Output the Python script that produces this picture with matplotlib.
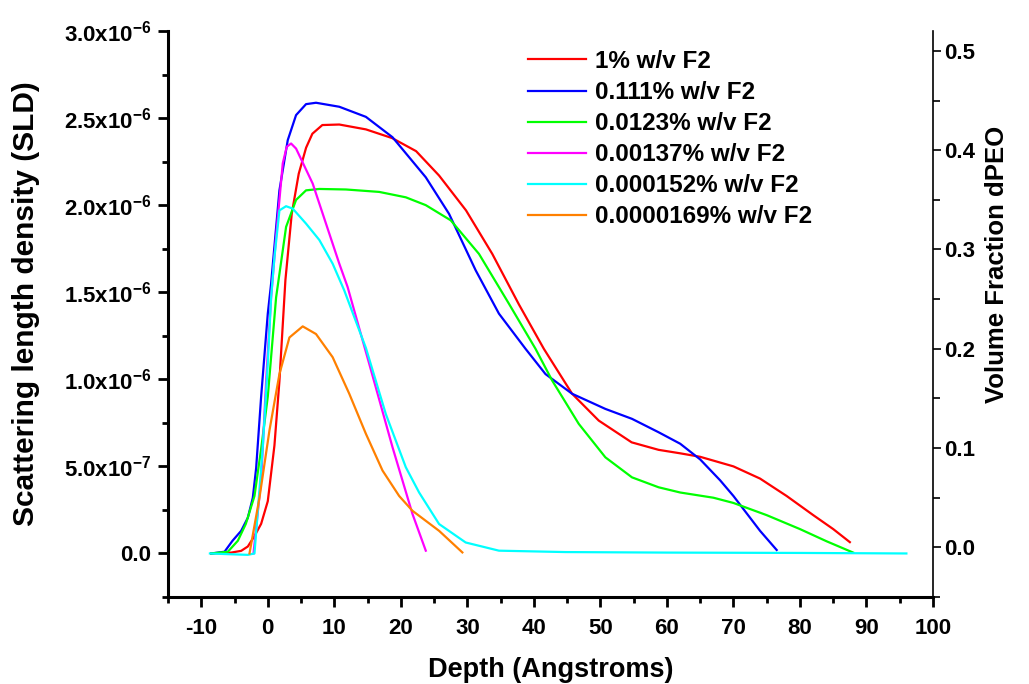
import numpy as np
import matplotlib
matplotlib.use('Agg')
import matplotlib.pyplot as plt
from matplotlib.ticker import MultipleLocator, FuncFormatter

plt.rcParams['font.family'] = ['Liberation Sans', 'DejaVu Sans']
plt.rcParams['font.weight'] = 'bold'
plt.rcParams['axes.unicode_minus'] = False
plt.rcParams['mathtext.fontset'] = 'custom'
plt.rcParams['mathtext.rm'] = 'Liberation Sans:bold'
plt.rcParams['mathtext.bf'] = 'Liberation Sans:bold'
plt.rcParams['mathtext.it'] = 'Liberation Sans:bold'
plt.rcParams['mathtext.default'] = 'bf'

# SLD values are in units of 1e-6
sld_unit = 1e-6

labels = ['1% w/v F2', '0.111% w/v F2', '0.0123% w/v F2',
          '0.00137% w/v F2', '0.000152% w/v F2', '0.0000169% w/v F2']
colors = ['#ff0000', '#0000ff', '#00ff00', '#ff00ff', '#00ffff', '#ff8000']

red_x = [-8.5, -5.5, -4.0, -3.0, -2.0, -1.0, 0.0, 1.0, 1.75, 2.65, 3.6, 4.65, 5.76, 6.7, 8.2,
         10.75, 14.76, 18.7, 22.3, 25.75, 29.8, 33.75, 37.75, 41.5, 45.75, 49.75, 54.7,
         58.75, 62, 65, 70, 74, 78, 82, 85, 87.5]
red_y = [0, 0.005, 0.015, 0.04, 0.10, 0.17, 0.30, 0.62, 0.99, 1.57, 1.95, 2.18, 2.33, 2.41, 2.46,
         2.463, 2.435, 2.385, 2.31, 2.17, 1.97, 1.72, 1.43, 1.175, 0.917, 0.763, 0.638,
         0.595, 0.575, 0.555, 0.50, 0.43, 0.33, 0.22, 0.14, 0.065]

blue_x = [-8.5, -6.5, -5.3, -4.0, -3.0, -2.25, -1.75, -1.0, 0.0, 0.5, 1.75, 3.0, 4.25, 5.75, 7.25,
          10.75, 14.75, 18.75, 23.75, 27.25, 31.25, 34.75, 38.75, 41.75, 45.75, 50.75, 54.75,
          58.75, 62, 65, 68, 70, 72, 74, 76.5]
blue_y = [0, 0.01, 0.073, 0.13, 0.205, 0.32, 0.49, 0.90, 1.377, 1.55, 2.085, 2.373, 2.517, 2.58, 2.588,
          2.565, 2.507, 2.39, 2.16, 1.95, 1.626, 1.377, 1.175, 1.03, 0.917, 0.83, 0.773,
          0.696, 0.63, 0.54, 0.42, 0.33, 0.23, 0.13, 0.02]

green_x = [-8.5, -6.0, -4.5, -3.3, -2.0, -1.0, 0.0, 1.25, 2.75, 4.25, 5.75, 7.75, 11.75, 16.75,
           20.75, 23.75, 27.5, 31.75, 36.25, 40.25, 42.75, 46.75, 50.75, 54.75, 58.75, 62, 67,
           70, 75, 80, 84, 88]
green_y = [0, 0.01, 0.073, 0.17, 0.33, 0.60, 0.90, 1.47, 1.875, 2.03, 2.085, 2.093, 2.09, 2.076,
           2.045, 2.0, 1.913, 1.72, 1.434, 1.175, 0.993, 0.744, 0.552, 0.437, 0.38, 0.35, 0.32,
           0.29, 0.22, 0.14, 0.07, 0.005]

magenta_x = [-2.15, -1.0, -0.25, 0.5, 1.25, 1.75, 2.25, 2.85, 3.5, 4.25, 6.75, 8.75, 10.75, 12.0,
             15.25, 18.75, 21.75, 23.75]
magenta_y = [0, 0.42, 0.99, 1.47, 1.82, 2.03, 2.24, 2.335, 2.354, 2.325, 2.124, 1.894, 1.664, 1.53,
             1.089, 0.61, 0.227, 0.016]

cyan_x = [-8.7, -6.0, -3.0, -2.0, -0.75, 0.0, 0.5, 1.0, 1.75, 2.75, 3.75, 5.75, 7.75, 9.75, 11.5,
          14.75, 17.75, 20.75, 22.75, 25.75, 29.75, 34.75, 44.75, 60, 80, 96]
cyan_y = [0, -0.004, -0.008, 0, 0.61, 1.09, 1.47, 1.70, 1.97, 1.994, 1.98, 1.894, 1.80, 1.664, 1.51,
          1.18, 0.80, 0.495, 0.35, 0.169, 0.063, 0.016, 0.008, 0.005, 0.003, 0.0]

orange_x = [-2.75, -1.25, 0.25, 1.75, 3.25, 5.25, 7.25, 9.75, 12.25, 14.75, 17.25, 19.75, 21.75,
            25.75, 29.25]
orange_y = [0, 0.32, 0.706, 1.03, 1.24, 1.304, 1.26, 1.127, 0.917, 0.687, 0.476, 0.33, 0.245,
            0.13, 0.006]

series = [(red_x, red_y), (blue_x, blue_y), (green_x, green_y),
          (magenta_x, magenta_y), (cyan_x, cyan_y), (orange_x, orange_y)]


def sci_fmt(v, pos):
    if abs(v) < 1e-12:
        return '0.0'
    e = int(np.floor(np.log10(abs(v)) + 1e-9))
    m = v / 10 ** e
    return r'$%.1fx10^{%d}$' % (m, e)


fig = plt.figure(figsize=(10.29, 6.84), dpi=100)
ax = fig.add_axes([168 / 1029, 87 / 684, (933 - 168) / 1029, (597 - 31) / 684])

for (xs, ys), c, lab in zip(series, colors, labels):
    ax.plot(xs, np.array(ys) * sld_unit, color=c, lw=1.6, label=lab)

ax.set_xlim(-15, 100)
ax.set_ylim(-0.25e-6, 3.0e-6)
ax.xaxis.set_major_locator(MultipleLocator(10))
ax.xaxis.set_minor_locator(MultipleLocator(5))
ax.yaxis.set_major_locator(MultipleLocator(0.5e-6))
ax.yaxis.set_minor_locator(MultipleLocator(0.25e-6))
ax.yaxis.set_major_formatter(FuncFormatter(sci_fmt))
ax.set_xticks([t for t in range(-10, 101, 10)])

ax.spines['top'].set_visible(False)
ax.spines['right'].set_visible(False)
ax.spines['left'].set_linewidth(2.2)
ax.spines['bottom'].set_linewidth(2.2)
ax.tick_params(axis='x', which='major', direction='out', length=7, width=2, labelsize=16, pad=8)
ax.tick_params(axis='y', which='major', direction='out', length=7, width=2, labelsize=16, pad=5)
ax.tick_params(which='minor', direction='out', length=4, width=2)

ax.set_xlabel('Depth (Angstroms)', fontsize=19.5, fontweight='bold')
ax.xaxis.set_label_coords(0.5007, -0.106)
ax.set_ylabel('Scattering length density (SLD)', fontsize=21.5, fontweight='bold')
ax.yaxis.set_label_coords(-0.167, 0.518)

ax2 = ax.twinx()
ax2.set_ylim(-0.05, 0.52)
ax2.yaxis.set_major_locator(MultipleLocator(0.1))
ax2.yaxis.set_minor_locator(MultipleLocator(0.05))
ax2.yaxis.set_major_formatter(FuncFormatter(lambda v, p: '%.1f' % abs(v) if abs(v) < 1e-9 else '%.1f' % v))
for s in ['top', 'left', 'bottom']:
    ax2.spines[s].set_visible(False)
ax2.spines['right'].set_linewidth(1.2)
ax2.tick_params(which='major', direction='out', length=6, width=1.2, labelsize=16, pad=2)
ax2.tick_params(which='minor', direction='out', length=5, width=1.2)
ax2.set_ylabel('Volume Fraction dPEO', fontsize=18.5, fontweight='bold')
ax2.yaxis.set_label_coords(1.068, 0.587)

leg = ax.legend(loc='upper left', bbox_to_anchor=(528 / 1029, 1 - 50 / 684),
                bbox_transform=fig.transFigure, frameon=False, fontsize=17.5,
                handlelength=2.4, handletextpad=0.37, labelspacing=0.33, borderpad=0,
                borderaxespad=0)
for t in leg.get_texts():
    t.set_fontweight('bold')

fig.savefig('out.png', dpi=100)
